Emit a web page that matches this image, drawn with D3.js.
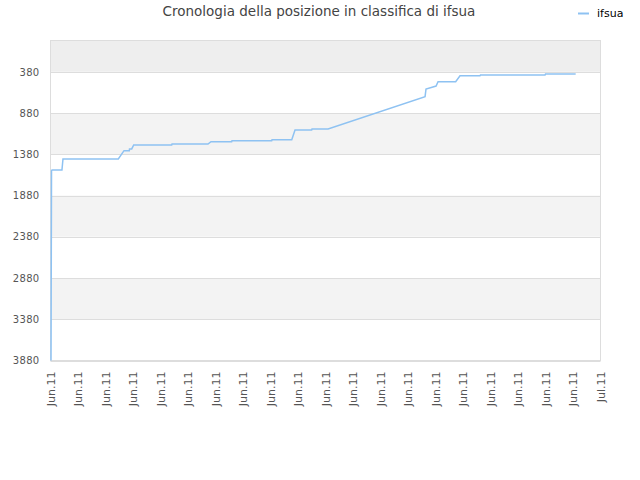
<!DOCTYPE html>
<html><head><meta charset="utf-8">
<script src="https://cdn.jsdelivr.net/npm/d3@7"></script>
<style>body{margin:0;background:#fff;} text{font-family:"DejaVu Sans",sans-serif;}</style>
</head><body>
<svg id="c" width="640" height="480"></svg>
<script>
const title = "Cronologia della posizione in classifica di ifsua";
const seriesName = "ifsua";
const times = ["2011-06-01T00:40","2011-06-01T01:20","2011-06-01T02:00","2011-06-01T15:00","2011-06-01T16:20",
"2011-06-04T16:45","2011-06-05T00:15","2011-06-05T07:10","2011-06-05T07:25","2011-06-05T10:20","2011-06-05T12:55",
"2011-06-07T14:40","2011-06-07T15:05","2011-06-09T14:10","2011-06-09T18:05","2011-06-10T21:10","2011-06-10T21:35",
"2011-06-13T01:35","2011-06-13T02:00","2011-06-14T03:50","2011-06-14T08:05","2011-06-15T05:55","2011-06-15T06:20",
"2011-06-16T03:20","2011-06-21T10:20","2011-06-21T11:35","2011-06-21T19:30","2011-06-22T00:45","2011-06-22T03:20",
"2011-06-23T02:25","2011-06-23T08:05","2011-06-24T10:15","2011-06-24T10:55","2011-06-27T23:25","2011-06-28T00:00",
"2011-06-29T15:30"];
const ranks = [3880,1579,1570,1570,1437,
1437,1336,1336,1315,1315,1267,
1267,1255,1255,1227,1227,1215,
1215,1203,1203,1085,1085,1073,
1073,681,588,567,552,500,
500,427,427,418,418,406,
406];
const yTicks = [380,880,1380,1880,2380,2880,3380,3880];
const xStart = "2011-06-01T00:00", xEnd = "2011-07-01T00:00";
const tickStepHours = 36;

const parse = d3.timeParse("%Y-%m-%dT%H:%M");
const data = times.map((t,i)=>({t:parse(t), r:ranks[i]}));
const svg = d3.select("#c");
const L=50.5, R=600.5, T=40.5, B=360.5;
const x = d3.scaleTime().domain([parse(xStart), parse(xEnd)]).range([L,R]);
const y = d3.scaleLinear().domain([0,3880]).range([T,B]);

// bands
const bounds=[0].concat(yTicks);
const bandColors=["#eeeeee","#ffffff","#f3f3f3","#ffffff","#f3f3f3","#ffffff","#f3f3f3","#ffffff"];
svg.append("g").selectAll("rect").data(d3.range(bounds.length-1)).join("rect")
 .attr("x",L).attr("width",R-L)
 .attr("y",i=>y(bounds[i])).attr("height",i=>y(bounds[i+1])-y(bounds[i]))
 .attr("fill",i=>bandColors[i]);
// grid
svg.append("g").selectAll("line").data(yTicks).join("line")
 .attr("x1",L).attr("x2",R).attr("y1",d=>Math.round(y(d))+0.5).attr("y2",d=>Math.round(y(d))+0.5)
 .attr("stroke","#dddddd");
svg.append("rect").attr("x",L).attr("y",T).attr("width",R-L).attr("height",B-T)
 .attr("fill","none").attr("stroke","#dddddd");

// y axis
const ya = svg.append("g").attr("transform",`translate(${L},0)`)
 .call(d3.axisLeft(y).tickValues(yTicks).tickSize(0).tickPadding(11).tickFormat(d3.format("d")));
ya.select(".domain").remove();
ya.selectAll("text").attr("fill","#555").style("font-size","10px").style("font-family","DejaVu Sans")
 .style("letter-spacing","0.3px");

// x axis
const xt = d3.timeHour.every(1).range(parse(xStart), d3.timeHour.offset(parse(xEnd),1)).filter((d,i)=>i%tickStepHours===0);
const xa = svg.append("g").attr("transform",`translate(0,${B})`)
 .call(d3.axisBottom(x).tickValues(xt).tickSize(0).tickFormat(d3.timeFormat("%b.%y")));
xa.select(".domain").remove();
xa.selectAll("text").attr("fill","#555").style("font-size","11px").style("font-family","DejaVu Sans")
 .attr("transform","rotate(-90)").attr("text-anchor","end").attr("x",-11).attr("y",0).attr("dy","0.35em");

// line
const line = d3.line().x(d=>x(d.t)).y(d=>y(d.r));
svg.append("path").datum(data).attr("d",line).attr("fill","none")
 .attr("stroke","#8ec2f2").attr("stroke-width",1.5);

// title
svg.append("text").attr("x",319).attr("y",16).attr("text-anchor","middle")
 .attr("fill","#444").style("font-size","13.5px").text(title);
// legend
svg.append("line").attr("x1",578).attr("x2",589).attr("y1",13.5).attr("y2",13.5).attr("stroke","#8ec2f2").attr("stroke-width",2);
svg.append("text").attr("x",597).attr("y",17).attr("fill","#000").style("font-size","11px").text(seriesName);
</script>
</body></html>
